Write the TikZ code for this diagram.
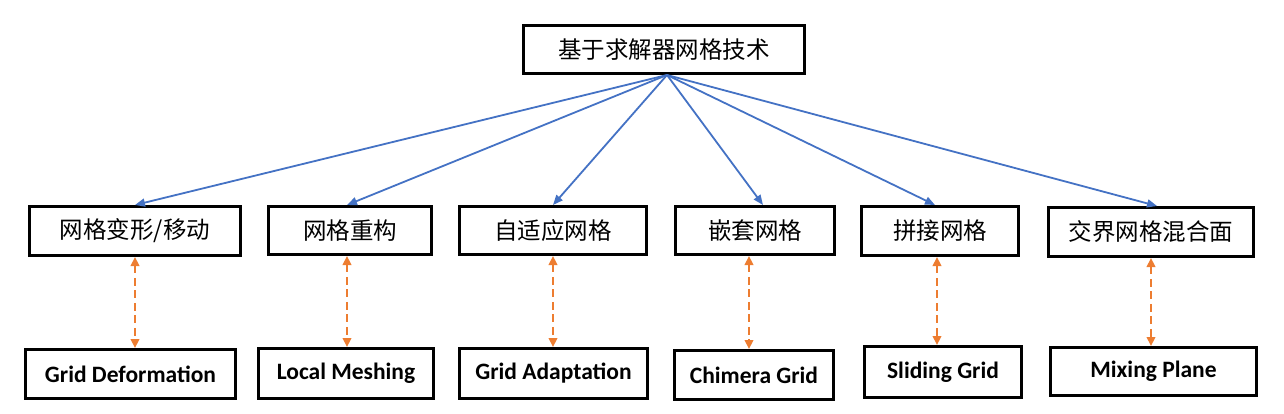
\documentclass[tikz,border=0pt]{standalone}
\usepackage{fontspec}
\setsansfont{Carlito}
\newfontfamily\cjk{Noto Sans CJK SC}
\usepackage{tikz}
\usetikzlibrary{positioning, calc}
\usetikzlibrary{arrows.meta}
\definecolor{lineblue}{HTML}{4472C4}
\definecolor{lineorange}{HTML}{ED7D31}

\begin{document}
\begin{tikzpicture}[x=1pt, y=-1pt,
                cnbox/.style={draw, line width=3pt, inner sep=0pt, font=\cjk\fontsize{23.5}{28}\selectfont},
                enbox/.style={draw, line width=3pt, inner sep=0pt, font=\sffamily\bfseries\fontsize{23.5}{28}\selectfont},
                tree/.style={lineblue, line width=1.8pt, -{Triangle[length=10pt,width=8pt]}},
                pair/.style={lineorange, line width=2.4pt, dash pattern=on 8pt off 4.5pt, {Triangle[length=9pt,width=8.5pt]}-{Triangle[length=9pt,width=8.5pt]}}]
                \useasboundingbox (0,0) rectangle (1284,414);

                \node[cnbox, minimum width=281pt, minimum height=48pt] (top) at (664,49.5) {基于求解器网格技术};

                \node[cnbox, minimum width=211pt, minimum height=49pt] (m1) at (135,231) {网格变形/移动};
                \node[cnbox, minimum width=163pt, minimum height=48pt] (m2) at (350,230.5) {网格重构};
                \node[cnbox, minimum width=187pt, minimum height=48pt] (m3) at (553,230.5) {自适应网格};
                \node[cnbox, minimum width=159pt, minimum height=48pt] (m4) at (755,230.5) {嵌套网格};
                \node[cnbox, minimum width=157pt, minimum height=49pt] (m5) at (940,231) {拼接网格};
                \node[cnbox, minimum width=205pt, minimum height=49pt] (m6) at (1151,232) {交界网格混合面};

                \node[enbox, minimum width=210pt, minimum height=49pt] (b1) at (130.5,374) {Grid Deformation};
                \node[enbox, minimum width=175pt, minimum height=50pt] (b2) at (346,373.5) {Local Meshing};
                \node[enbox, minimum width=188pt, minimum height=50pt] (b3) at (553.5,373.5) {Grid Adaptation};
                \node[enbox, minimum width=159pt, minimum height=49pt] (b4) at (754,375) {Chimera Grid};
                \node[enbox, minimum width=157pt, minimum height=51pt] (b5) at (943,372) {Sliding Grid};
                \node[enbox, minimum width=206pt, minimum height=48pt] (b6) at (1153.5,371.5) {Mixing Plane};

                \coordinate (root) at ($(top.south)+(3,0)$);
                \draw[tree] (root) -- (m1.north);
                \draw[tree] (root) -- ([xshift=-3pt]m2.north);
                \draw[tree] (root) -- (m3.north);
                \draw[tree] (root) -- ([xshift=8pt]m4.north);
                \draw[tree] (root) -- ([xshift=-5pt]m5.north);
                \draw[tree] (root) -- ([xshift=6pt]m6.north);

                \draw[pair] (m1.south) -- (m1.south |- b1.north);
                \draw[pair] ([xshift=-3pt]m2.south) -- ([xshift=-3pt]m2.south |- b2.north);
                \draw[pair] (m3.south) -- (m3.south |- b3.north);
                \draw[pair] ([xshift=-6pt]m4.south) -- ([xshift=-6pt]m4.south |- b4.north);
                \draw[pair] ([xshift=-3pt]m5.south) -- ([xshift=-3pt]m5.south |- b5.north);
                \draw[pair] (m6.south) -- (m6.south |- b6.north);
            \end{tikzpicture}
\end{document}
